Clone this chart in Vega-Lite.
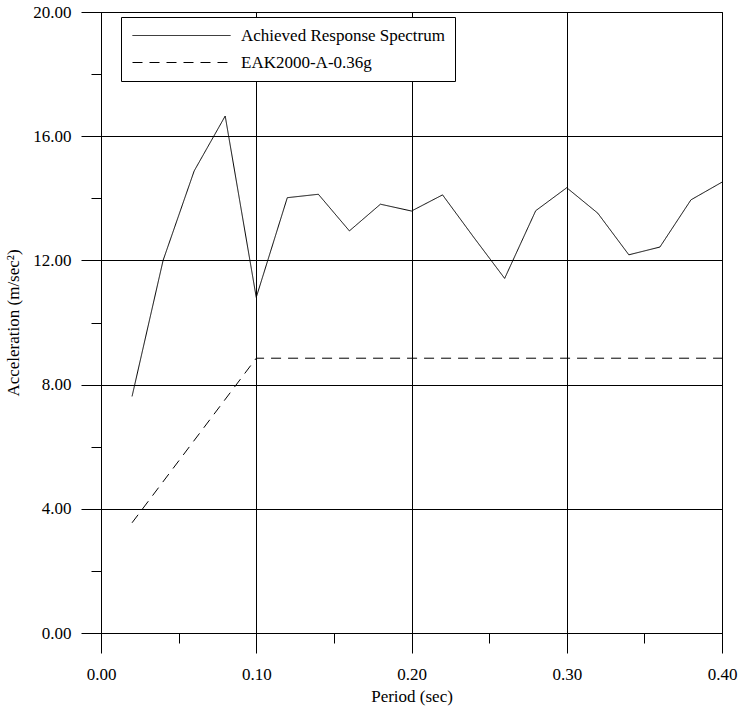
{
  "$schema": "https://vega.github.io/schema/vega-lite/v6.json",
  "width": 621,
  "height": 621,
  "autosize": {"type": "none"},
  "padding": {"left": 101, "top": 12, "right": 16, "bottom": 74},
  "background": "white",
  "config": {
    "view": {"stroke": "black", "strokeWidth": 1},
    "font": "Liberation Serif",
    "axis": {
      "domainColor": "black",
      "tickColor": "black",
      "gridColor": "black",
      "gridOpacity": 1,
      "gridWidth": 1,
      "labelFont": "Liberation Serif",
      "labelFontSize": 17,
      "labelColor": "black",
      "titleFont": "Liberation Serif",
      "titleFontSize": 17,
      "titleFontWeight": "normal",
      "titleColor": "black"
    }
  },
  "data": {
    "values": [
      {"period": 0.02, "acc": 7.62, "series": "Achieved Response Spectrum"},
      {"period": 0.04, "acc": 12.0, "series": "Achieved Response Spectrum"},
      {"period": 0.06, "acc": 14.88, "series": "Achieved Response Spectrum"},
      {"period": 0.08, "acc": 16.65, "series": "Achieved Response Spectrum"},
      {"period": 0.10, "acc": 10.81, "series": "Achieved Response Spectrum"},
      {"period": 0.12, "acc": 14.02, "series": "Achieved Response Spectrum"},
      {"period": 0.14, "acc": 14.13, "series": "Achieved Response Spectrum"},
      {"period": 0.16, "acc": 12.95, "series": "Achieved Response Spectrum"},
      {"period": 0.18, "acc": 13.81, "series": "Achieved Response Spectrum"},
      {"period": 0.20, "acc": 13.59, "series": "Achieved Response Spectrum"},
      {"period": 0.22, "acc": 14.11, "series": "Achieved Response Spectrum"},
      {"period": 0.24, "acc": 12.75, "series": "Achieved Response Spectrum"},
      {"period": 0.26, "acc": 11.42, "series": "Achieved Response Spectrum"},
      {"period": 0.28, "acc": 13.6, "series": "Achieved Response Spectrum"},
      {"period": 0.30, "acc": 14.34, "series": "Achieved Response Spectrum"},
      {"period": 0.32, "acc": 13.52, "series": "Achieved Response Spectrum"},
      {"period": 0.34, "acc": 12.18, "series": "Achieved Response Spectrum"},
      {"period": 0.36, "acc": 12.43, "series": "Achieved Response Spectrum"},
      {"period": 0.38, "acc": 13.95, "series": "Achieved Response Spectrum"},
      {"period": 0.40, "acc": 14.52, "series": "Achieved Response Spectrum"},
      {"period": 0.02, "acc": 3.55, "series": "EAK2000-A-0.36g"},
      {"period": 0.10, "acc": 8.85, "series": "EAK2000-A-0.36g"},
      {"period": 0.40, "acc": 8.85, "series": "EAK2000-A-0.36g"}
    ]
  },
  "layer": [
    {
      "mark": {"type": "line", "color": "black", "strokeWidth": 1},
      "encoding": {
        "x": {
          "field": "period",
          "type": "quantitative",
          "scale": {"domain": [0, 0.4], "nice": false, "zero": false},
          "axis": {
            "orient": "bottom",
            "values": [0, 0.1, 0.2, 0.3, 0.4],
            "format": ".2f",
            "grid": true,
            "tickSize": 20,
            "labelPadding": 13,
            "labelFlush": false,
            "labelOverlap": false,
            "title": "Period (sec)",
            "titleX": 310.5,
            "titleY": 68,
            "titleAnchor": "middle",
            "titleAlign": "center",
            "titleBaseline": "alphabetic"
          }
        },
        "y": {
          "field": "acc",
          "type": "quantitative",
          "scale": {"domain": [0, 20], "nice": false, "zero": false},
          "axis": {
            "orient": "left",
            "values": [0, 4, 8, 12, 16, 20],
            "format": ".2f",
            "grid": true,
            "tickSize": 20,
            "labelPadding": 10,
            "labelFlush": false,
            "labelOverlap": false,
            "title": "Acceleration (m/sec²)",
            "titleX": -83,
            "titleY": 310.5,
            "titleAngle": -90,
            "titleAlign": "center",
            "titleBaseline": "alphabetic"
          }
        },
        "strokeDash": {
          "field": "series",
          "type": "nominal",
          "scale": {
            "domain": ["Achieved Response Spectrum", "EAK2000-A-0.36g"],
            "range": [[1, 0], [10, 7]]
          },
          "legend": {
            "title": null,
            "orient": "none",
            "legendX": 20,
            "legendY": 5,
            "symbolType": "M-7,0L91,0",
            "symbolSize": 4,
            "symbolStrokeWidth": 1,
            "symbolStrokeColor": "black",
            "symbolFillColor": "transparent",
            "symbolOffset": 0,
            "labelFont": "Liberation Serif",
            "labelFontSize": 17,
            "labelColor": "black",
            "labelOffset": 93,
            "labelLimit": 400,
            "rowPadding": 9,
            "padding": 10,
            "strokeColor": "black",
            "fillColor": "white",
            "cornerRadius": 0
          }
        }
      }
    },
    {
      "mark": {"type": "line", "strokeOpacity": 0},
      "encoding": {
        "x": {
          "field": "period",
          "type": "quantitative",
          "axis": {
            "orient": "bottom",
            "values": [0.05, 0.15, 0.25, 0.35],
            "grid": false,
            "domain": false,
            "labels": false,
            "tickSize": 10,
            "title": null
          }
        },
        "y": {
          "field": "acc",
          "type": "quantitative",
          "axis": {
            "orient": "left",
            "values": [2, 6, 10, 14, 18],
            "grid": false,
            "domain": false,
            "labels": false,
            "tickSize": 10,
            "title": null
          }
        },
        "detail": {"field": "series", "type": "nominal"}
      }
    }
  ],
  "resolve": {"axis": {"x": "independent", "y": "independent"}}
}
